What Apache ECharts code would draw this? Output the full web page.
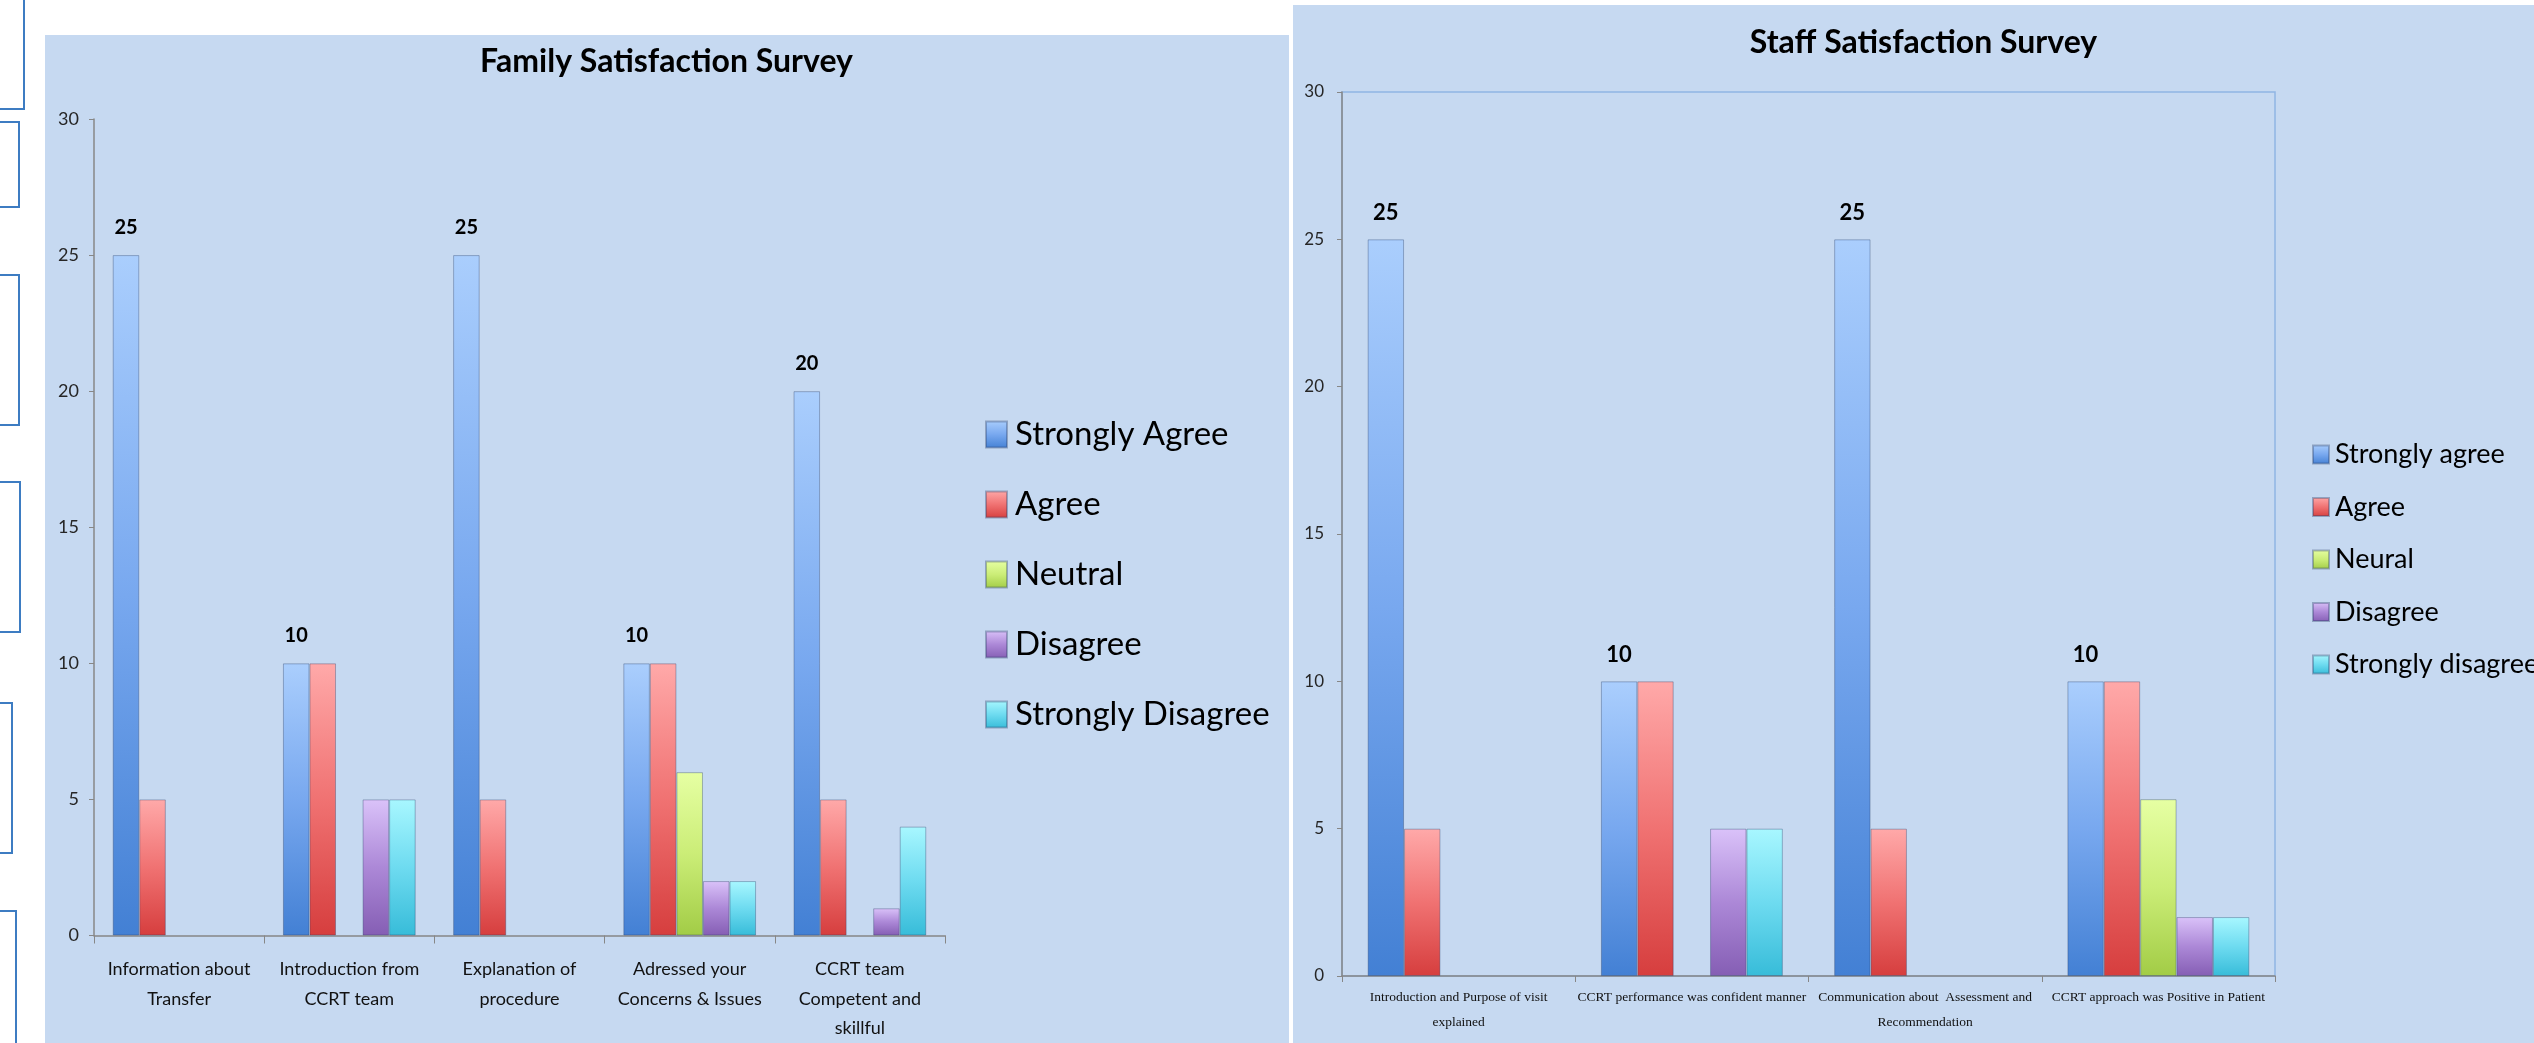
<!DOCTYPE html>
<html><head><meta charset="utf-8">
<script src="https://cdn.jsdelivr.net/npm/echarts@6/dist/echarts.min.js"></script>
<style>html,body{margin:0;padding:0;background:#fff;overflow:hidden}#c{width:2534px;height:1043px}</style>
</head><body><div id="c"></div>
<script>
// ---- data ----
const familyCategories = ["Information about\nTransfer", "Introduction from\nCCRT team", "Explanation of\nprocedure", "Adressed your\nConcerns & Issues", "CCRT team\nCompetent and\nskillful"];
const familySeriesNames = ["Strongly Agree", "Agree", "Neutral", "Disagree", "Strongly Disagree"];
const familyStronglyAgree = [25, 10, 25, 10, 20];
const familyAgree = [5, 10, 5, 10, 5];
const familyNeutral = [0, 0, 0, 6, 0];
const familyDisagree = [0, 5, 0, 2, 1];
const familyStronglyDisagree = [0, 5, 0, 2, 4];

const staffCategories = ["Introduction and Purpose of visit\nexplained", "CCRT performance was confident manner", "Communication about  Assessment and\nRecommendation", "CCRT approach was Positive in Patient"];
const staffSeriesNames = ["Strongly agree", "Agree", "Neural", "Disagree", "Strongly disagree"];
const staffStronglyAgree = [25, 10, 25, 10];
const staffAgree = [5, 10, 5, 10];
const staffNeural = [0, 0, 0, 6];
const staffDisagree = [0, 5, 0, 2];
const staffStronglyDisagree = [0, 5, 0, 2];

const yAxisMin = 0, yAxisMax = 30, yAxisStep = 5;

// ---- styles ----
const palette = [
  ['#aacefd', '#78a8ef', '#4380d4'],
  ['#ffa9a9', '#f07272', '#d63e3e'],
  ['#e6ffa3', '#cbed77', '#a2cc46'],
  ['#dac2f9', '#ac88d7', '#855eb4'],
  ['#a8f7ff', '#6edbf0', '#37bcd9']
];
function grad(c) {
  return new echarts.graphic.LinearGradient(0, 0, 0, 1, [
    {offset: 0, color: c[0]}, {offset: 0.5, color: c[1]}, {offset: 1, color: c[2]}
  ]);
}
const FONT = 'Lato';

function makeSeries(names, datas, axisIdx, labelCfg) {
  return datas.map((d, i) => ({
    type: 'bar',
    name: names[i],
    xAxisIndex: axisIdx, yAxisIndex: axisIdx,
    data: d.map(v => (v === 0 ? null : v)),
    barGap: '0%',
    barCategoryGap: '22%',
    itemStyle: {color: grad(palette[i]), borderColor: 'rgba(40,60,100,0.35)', borderWidth: 1},
    label: i === 0 ? Object.assign({show: true, position: 'top', fontWeight: 'bold', color: '#000', fontFamily: FONT}, labelCfg) : {show: false},
    emphasis: {disabled: true}
  }));
}

const axisGray = '#878787';
const chart = echarts.init(document.getElementById('c'));
chart.setOption({
  animation: false,
  graphic: [
    {type: 'rect', z: -10, shape: {x: 45, y: 35, width: 1244, height: 1020}, style: {fill: '#c6d9f1'}},
    {type: 'rect', z: -10, shape: {x: 1293, y: 5, width: 1250, height: 1050}, style: {fill: '#c6d9f1'}},
    {type: 'rect', shape: {x: -10, y: -10, width: 34, height: 119}, style: {fill: '#fff', stroke: '#3d7cc2', lineWidth: 2}},
    {type: 'rect', shape: {x: -10, y: 122, width: 29, height: 85}, style: {fill: '#fff', stroke: '#3d7cc2', lineWidth: 2}},
    {type: 'rect', shape: {x: -10, y: 275, width: 29, height: 150}, style: {fill: '#fff', stroke: '#3d7cc2', lineWidth: 2}},
    {type: 'rect', shape: {x: -10, y: 482, width: 30, height: 150}, style: {fill: '#fff', stroke: '#3d7cc2', lineWidth: 2}},
    {type: 'rect', shape: {x: -10, y: 703, width: 22, height: 150}, style: {fill: '#fff', stroke: '#3d7cc2', lineWidth: 2}},
    {type: 'rect', shape: {x: -10, y: 911, width: 26, height: 150}, style: {fill: '#fff', stroke: '#3d7cc2', lineWidth: 2}},
    {type: 'text', x: 666.5, y: 46, style: {text: 'Family Satisfaction Survey', align: 'center', verticalAlign: 'top', fill: '#000', font: 'bold 32px Lato'}},
    {type: 'text', x: 1923.5, y: 27, style: {text: 'Staff Satisfaction Survey', align: 'center', verticalAlign: 'top', fill: '#000', font: 'bold 32px Lato'}}
  ],
  grid: [
    {left: 94, top: 119, width: 851, height: 820, containLabel: false},
    {left: 1342, top: 92, width: 933, height: 884, containLabel: false, show: true, borderColor: '#90b5e3', borderWidth: 1.5, backgroundColor: 'transparent'}
  ],
  legend: [
    {data: familySeriesNames, orient: 'vertical', left: 980, top: 413, itemWidth: 21, itemHeight: 26, itemGap: 37, icon: 'rect',
     textStyle: {fontFamily: FONT, fontSize: 33, lineHeight: 26, color: '#000', padding: [0, 0, 0, 3]}, selectedMode: false},
    {data: staffSeriesNames, orient: 'vertical', left: 2307, top: 436, itemWidth: 16, itemHeight: 18, itemGap: 25.5, icon: 'rect',
     textStyle: {fontFamily: FONT, fontSize: 27, lineHeight: 18, color: '#000', padding: [0, 0, 0, 1]}, selectedMode: false}
  ],
  xAxis: [
    {type: 'category', gridIndex: 0, data: familyCategories,
     axisLine: {lineStyle: {color: axisGray, width: 1.5}}, axisTick: {show: true, length: 8, lineStyle: {color: axisGray}},
     axisLabel: {interval: 0, fontFamily: FONT, fontSize: 18, lineHeight: 29.5, margin: 19, color: '#111'}},
    {type: 'category', gridIndex: 1, data: staffCategories,
     axisLine: {lineStyle: {color: axisGray, width: 1.5}}, axisTick: {show: true, length: 6, lineStyle: {color: axisGray}},
     axisLabel: {interval: 0, fontFamily: 'Liberation Serif', fontSize: 13.5, lineHeight: 25, margin: 8.5, color: '#111'}}
  ],
  yAxis: [
    {type: 'value', gridIndex: 0, min: yAxisMin, max: yAxisMax, interval: yAxisStep, splitLine: {show: false},
     axisLine: {show: true, lineStyle: {color: axisGray, width: 1.5}}, axisTick: {show: true, length: 5, lineStyle: {color: axisGray}},
     axisLabel: {fontFamily: FONT, fontSize: 18, margin: 15, color: '#262626'}},
    {type: 'value', gridIndex: 1, min: yAxisMin, max: yAxisMax, interval: yAxisStep, splitLine: {show: false},
     axisLine: {show: true, lineStyle: {color: axisGray, width: 1.5}}, axisTick: {show: true, length: 5, lineStyle: {color: axisGray}},
     axisLabel: {fontFamily: FONT, fontSize: 17, margin: 18, color: '#262626'}}
  ],
  series: [].concat(
    makeSeries(familySeriesNames, [familyStronglyAgree, familyAgree, familyNeutral, familyDisagree, familyStronglyDisagree], 0, {fontSize: 20, distance: 18}),
    makeSeries(staffSeriesNames, [staffStronglyAgree, staffAgree, staffNeural, staffDisagree, staffStronglyDisagree], 1, {fontSize: 22, distance: 15})
  )
});
</script>
</body></html>
